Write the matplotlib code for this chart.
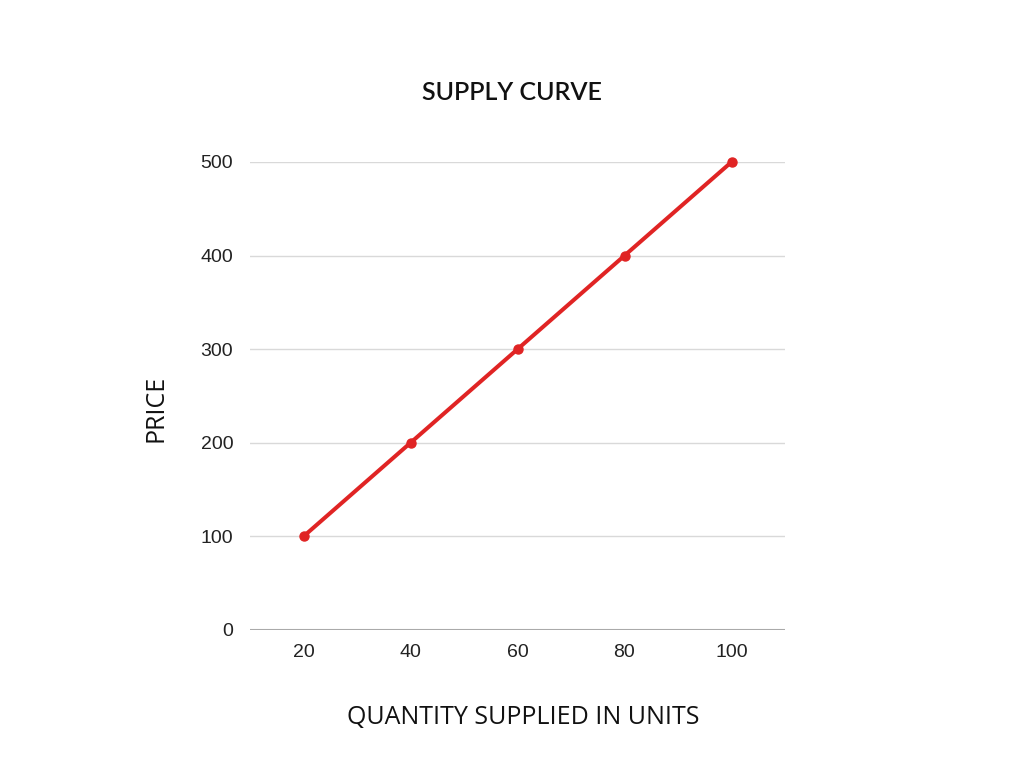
import matplotlib
matplotlib.use("Agg")
import matplotlib.pyplot as plt

quantities = ["20", "40", "60", "80", "100"]
prices = [100, 200, 300, 400, 500]
y_ticks = [0, 100, 200, 300, 400, 500]

fig = plt.figure(figsize=(10.24, 7.68), dpi=100)
ax = fig.add_axes([250/1024, 1-630/768, 535/1024, 468/768])

x = list(range(len(quantities)))
ax.plot(x, prices, color="#e02424", linewidth=2.9, marker="o", markersize=6.5,
        solid_capstyle="round", zorder=3, clip_on=False)

ax.set_xlim(-0.5, len(quantities) - 0.5)
ax.set_ylim(0, 500)
ax.set_xticks(x)
ax.set_xticklabels(quantities)
ax.set_yticks(y_ticks)
ax.set_yticklabels([str(v) for v in y_ticks])

for v in y_ticks[1:]:
    ax.axhline(v, color="#d9d9d9", linewidth=1.0, zorder=1)
ax.axhline(0, color="#aaaaaa", linewidth=1.5, zorder=2)

for s in ax.spines.values():
    s.set_visible(False)
ax.tick_params(length=0, labelsize=14, colors="#222222")
ax.tick_params(axis="y", pad=12)
ax.tick_params(axis="x", pad=10)
for lab in ax.get_xticklabels() + ax.get_yticklabels():
    lab.set_fontfamily("Liberation Sans")

fig.text(512/1024, 1-92/768, "SUPPLY CURVE", ha="center", va="center",
         fontsize=18, fontweight="semibold", family="Lato", color="#111111")
fig.text(523/1024, 1-718/768, "QUANTITY SUPPLIED IN UNITS", ha="center", va="center",
         fontsize=18, family="Open Sans", color="#111111")
fig.text(156/1024, 1-408/768, "PRICE", ha="center", va="center", rotation=90,
         fontsize=18, family="Open Sans", color="#111111")

fig.savefig("out.png", dpi=100, facecolor="white")
